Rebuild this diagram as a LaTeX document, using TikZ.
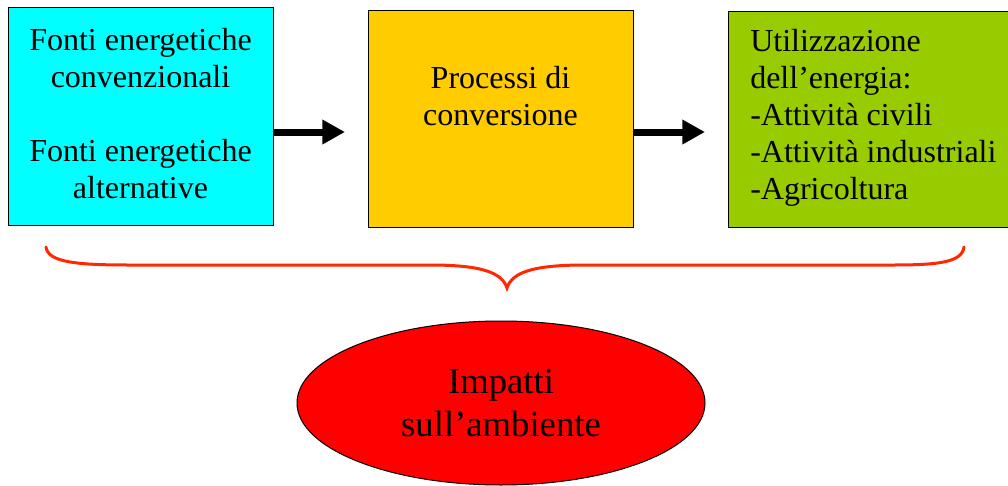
\documentclass[tikz,border=0pt]{standalone}
\usepackage{fontspec}
\setmainfont{Liberation Serif}
\usetikzlibrary{shapes.geometric,arrows.meta}
\definecolor{boxcyan}{RGB}{0,255,255}
\definecolor{boxyellow}{RGB}{255,204,0}
\definecolor{boxgreen}{RGB}{153,204,0}
\definecolor{bracered}{RGB}{255,40,0}
\tikzset{
  box/.style={draw=black,line width=1pt,inner sep=0pt,anchor=north west},
  boxtext/.style={font=\fontsize{24}{27.75}\selectfont,inner sep=0pt},
  bigarrow/.style={line width=5.25pt,-{Triangle[length=17pt,width=17.5pt]}},
}
\begin{document}
\begin{tikzpicture}[x=0.75pt,y=-0.75pt]
      \useasboundingbox (0,0) rectangle (1008,486);

      \node[box,fill=boxcyan,  minimum width=198.75pt,minimum height=163.5pt] (b1) at (8,7) {};
      \node[box,fill=boxyellow,minimum width=198.75pt,minimum height=162.75pt] (b2) at (368,10) {};
      \node[box,fill=boxgreen, minimum width=213pt,   minimum height=162pt] (b3) at (728,11) {};

      \node[boxtext,align=center] (t1) at (140.5,114)
        {Fonti energetiche\\convenzionali\\[27.75pt]Fonti energetiche\\alternative};
      \node[boxtext,align=center] (t2) at (500.5,96) {Processi di\\conversione};
      \node[boxtext,align=left,anchor=west] (t3) at (750,118)
        {Utilizzazione\\dell’energia:\\-Attività civili\\-Attività industriali\\-Agricoltura};

      \coordinate (a1) at (345,132);
      \coordinate (a2) at (705,132);
      \draw[bigarrow] (b1.east |- a1) -- (a1);
      \draw[bigarrow] (b2.east |- a2) -- (a2);

      % graffa
      \coordinate (g1) at (46,247);
      \coordinate (g2) at (507,288);
      \coordinate (g3) at (964,247);
      \draw[bracered,line width=2.25pt,line cap=round]
        (g1) .. controls (48,262) and (75,265) .. (129,265) -- (430,265)
             .. controls (480,265) and (502,272) .. (g2)
             .. controls (512,272) and (534,265) .. (585,265) -- (893,265)
             .. controls (940,265) and (962,262) .. (g3);

      \node[ellipse,draw=black,line width=0.75pt,fill=red,minimum width=306pt,minimum height=123pt,
            align=center,font=\fontsize{27.5}{32.25}\selectfont] (imp) at (501,403) {Impatti\\sull’ambiente};
\end{tikzpicture}
\end{document}
